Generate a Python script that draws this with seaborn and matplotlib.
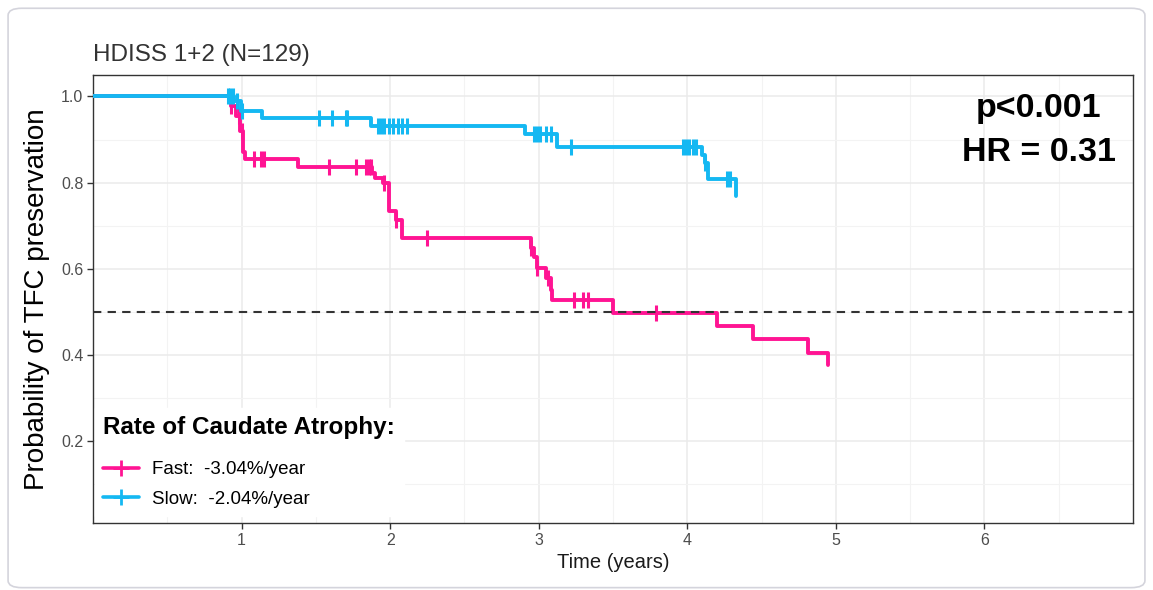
import numpy as np
import pandas as pd
import seaborn as sns
import matplotlib.pyplot as plt
from matplotlib.lines import Line2D
from matplotlib.patches import FancyBboxPatch

# Kaplan-Meier steps (time in years, survival after step)
fast_t = [0, 0.93, 0.96, 0.99, 1.01, 1.02, 1.38, 1.88, 1.90, 1.95, 1.99, 2.04, 2.08,
          2.95, 2.97, 2.99, 3.05, 3.08, 3.09, 3.50, 4.20, 4.44, 4.81, 4.95]
fast_s = [1.0, 0.977, 0.955, 0.919, 0.87, 0.856, 0.837, 0.823, 0.811, 0.80, 0.733, 0.714, 0.672,
          0.649, 0.628, 0.602, 0.579, 0.551, 0.528, 0.498, 0.467, 0.437, 0.405, 0.377]
fast_cens = [0.93, 0.98, 1.0, 1.08, 1.13, 1.15, 1.59, 1.77, 1.84, 1.86, 1.87, 1.96, 2.04,
             2.25, 2.95, 2.99, 3.06, 3.24, 3.30, 3.33, 3.79]

slow_t = [0, 0.95, 0.995, 1.14, 1.87, 2.91, 3.12, 4.10, 4.12, 4.14, 4.33]
slow_s = [1.0, 0.989, 0.966, 0.950, 0.931, 0.912, 0.883, 0.865, 0.846, 0.809, 0.770]
slow_cens = [0.91, 0.92, 0.94, 0.97, 1.0, 1.52, 1.61, 1.70, 1.71, 1.92, 1.94, 1.96, 1.99,
             2.02, 2.05, 2.08, 2.11, 2.97, 2.99, 3.01, 3.05, 3.08, 3.22, 3.97, 3.99,
             4.01, 4.04, 4.06, 4.12, 4.27, 4.29]

groups = ['Fast', 'Slow']
legend_labels = ['Fast:  -3.04%/year', 'Slow:  -2.04%/year']
colors = {'Fast': '#FF1493', 'Slow': '#14B8F2'}

x_ticks = [1, 2, 3, 4, 5, 6]
y_ticks = [0.2, 0.4, 0.6, 0.8, 1.0]

sns.set_theme(style='whitegrid')
plt.rcParams['font.family'] = ['Liberation Sans', 'DejaVu Sans']

fig = plt.figure(figsize=(11.53, 5.9), dpi=100)
fig.patches.append(FancyBboxPatch((0.007, 0.004), 0.986, 0.982, boxstyle='round,pad=0,rounding_size=0.012',
                                  transform=fig.transFigure, fc='white', ec='#D4D4DC', lw=1.2, zorder=-10))
ax = fig.add_axes([0.0807, 0.1136, 0.902, 0.7594])


def km_frame(t, s):
    return pd.DataFrame({'time': t, 'surv': s})


def censor_frame(t, s, c):
    idx = np.searchsorted(np.array(t), np.array(c), side='right') - 1
    return pd.DataFrame({'time': c, 'surv': np.array(s)[idx]})


curves = {'Fast': (fast_t, fast_s, fast_cens), 'Slow': (slow_t, slow_s, slow_cens)}
for g in groups:
    t, s, c = curves[g]
    sns.lineplot(data=km_frame(t, s), x='time', y='surv', drawstyle='steps-post',
                 color=colors[g], lw=2.8, ax=ax, zorder=3)
    cf = censor_frame(t, s, c)
    ax.plot(cf['time'], cf['surv'], ls='none', marker='|', ms=11, mew=2.2,
            color=colors[g], zorder=3)

ax.axhline(0.5, ls=(0, (4, 3)), color='#333333', lw=1.5, zorder=4)

ax.set_xlim(0, 7)
ax.set_ylim(0.01, 1.05)
ax.set_xticks(x_ticks)
ax.set_yticks(y_ticks)
ax.set_yticklabels([f'{v:.1f}' for v in y_ticks])
ax.set_xticks(np.arange(0.5, 7, 1), minor=True)
ax.set_yticks(np.arange(0.1, 1.05, 0.2), minor=True)
ax.grid(which='major', color='#EBEBEB', lw=1.1)
ax.grid(which='minor', color='#F3F3F3', lw=0.8)
ax.tick_params(axis='both', which='major', length=4, width=1, color='#333333',
               labelsize=11.5, labelcolor='#4D4D4D', pad=3, bottom=True, left=True)
ax.tick_params(which='minor', length=0)
for sp in ax.spines.values():
    sp.set_color('#333333')
    sp.set_linewidth(1.0)

ax.set_xlabel('Time (years)', fontsize=14.5, color='#1A1A1A', labelpad=4)
ax.set_ylabel('Probability of TFC preservation', fontsize=20, color='black', labelpad=8)
ax.set_title('HDISS 1+2 (N=129)', loc='left', fontsize=17.5, color='#333333', pad=10)

ax.text(0.9096, 0.926, 'p<0.001', transform=ax.transAxes, ha='center', va='center',
        fontsize=24.5, fontweight='bold', color='black')
ax.text(0.9096, 0.826, 'HR = 0.31', transform=ax.transAxes, ha='center', va='center',
        fontsize=24.5, fontweight='bold', color='black')

handles = [Line2D([], [], color=colors[g], lw=2.6, marker='+', ms=11, mew=2)
           for g in groups]
leg = ax.legend(handles, legend_labels, title='Rate of Caudate Atrophy:', loc='lower left',
                bbox_to_anchor=(0.0, 0.011), borderaxespad=0.1, frameon=True, fancybox=False,
                framealpha=1, edgecolor='white', facecolor='white', handlelength=1.9,
                handletextpad=0.7, labelspacing=0.65, borderpad=0.45,
                prop={'size': 13.5},
                title_fontproperties={'size': 17.5, 'weight': 'bold'})
leg._legend_box.align = 'left'
leg._legend_box.sep = 16
plt.setp(leg.get_texts(), color='black')
leg.get_title().set_color('black')
leg.set_zorder(5)

fig.savefig('out.png', dpi=100)
